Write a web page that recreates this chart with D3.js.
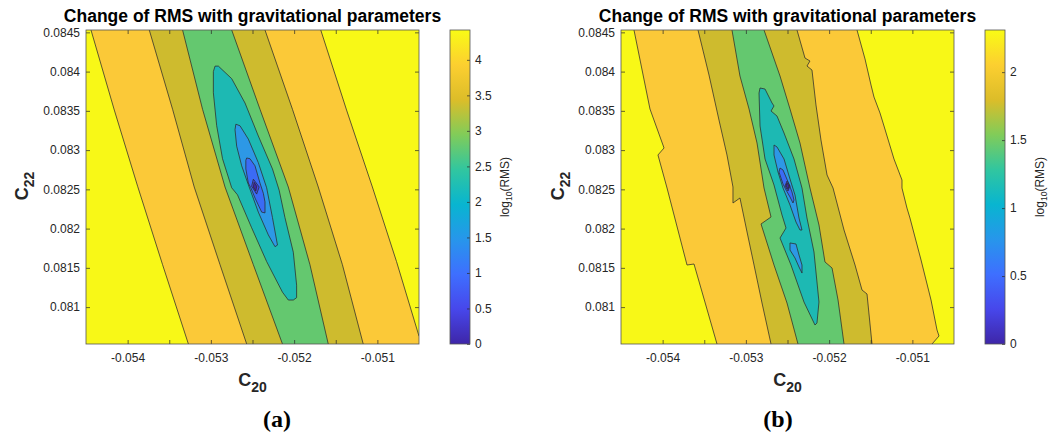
<!DOCTYPE html>
<html><head><meta charset="utf-8">
<script src="https://cdn.jsdelivr.net/npm/d3@7"></script>
<style>body{margin:0;background:#fff;} svg{display:block;}</style>
</head><body><svg id="chart" width="1052" height="439"></svg>
<script>
// ---------------- data ----------------
const c20Domain = [-0.0545, -0.0505];
const c22Domain = [0.08053, 0.08453];
const c20TickValues = [-0.054, -0.0535, -0.053, -0.0525, -0.052, -0.0515, -0.051];
const c20TickLabels = [-0.054, -0.053, -0.052, -0.051];
const c22TickValues = [0.081, 0.0815, 0.082, 0.0825, 0.083, 0.0835, 0.084, 0.0845];
const cbarMaxA = 4.42;
const cbarTicksA = [0, 0.5, 1, 1.5, 2, 2.5, 3, 3.5, 4];
const cbarMaxB = 2.31;
const cbarTicksB = [0, 0.5, 1, 1.5, 2];

// panel (a) contour lines, [C20, C22]
const a_lvl40_left  = [[-0.05444,0.08453],[-0.05416,0.08351],[-0.05388,0.08254],[-0.05358,0.08154],[-0.05327,0.08053]];
const a_lvl40_right = [[-0.05168,0.08453],[-0.05137,0.08351],[-0.05106,0.08253],[-0.05077,0.08158],[-0.05050,0.08063]];
const a_lvl35_left  = [[-0.05374,0.08453],[-0.05346,0.08352],[-0.05320,0.08253],[-0.05289,0.08154],[-0.05257,0.08053]];
const a_lvl35_right = [[-0.05235,0.08453],[-0.05202,0.08352],[-0.05171,0.08253],[-0.05142,0.08154],[-0.05117,0.08053]];
const a_lvl30_left  = [[-0.05334,0.08453],[-0.05310,0.08352],[-0.05283,0.08253],[-0.05249,0.08154],[-0.05214,0.08053]];
const a_lvl30_right = [[-0.05275,0.08453],[-0.05241,0.08352],[-0.05207,0.08253],[-0.05181,0.08154],[-0.05159,0.08053]];
const a_lvl25 = [[-0.05295,0.08407],[-0.05291,0.08407],[-0.05275,0.08391],[-0.05259,0.08360],[-0.05243,0.08318],[-0.05226,0.08276],[-0.05218,0.08249],[-0.05211,0.08214],[-0.05201,0.08170],[-0.05197,0.08128],[-0.05197,0.08112],[-0.05201,0.08109],[-0.05207,0.08109],[-0.05214,0.08119],[-0.05233,0.08158],[-0.05251,0.08201],[-0.05268,0.08243],[-0.05275,0.08252],[-0.05286,0.08289],[-0.05293,0.08331],[-0.05297,0.08373],[-0.05297,0.08400]];
const a_lvl20 = [[-0.05270,0.08333],[-0.05265,0.08331],[-0.05255,0.08314],[-0.05243,0.08284],[-0.05233,0.08252],[-0.05226,0.08214],[-0.05220,0.08179],[-0.05223,0.08177],[-0.05231,0.08192],[-0.05243,0.08221],[-0.05255,0.08256],[-0.05263,0.08280],[-0.05269,0.08305],[-0.05271,0.08326]];
const a_lvl15 = [[-0.05257,0.08290],[-0.05253,0.08289],[-0.05247,0.08280],[-0.05241,0.08258],[-0.05237,0.08245],[-0.05235,0.08234],[-0.05235,0.08220],[-0.05239,0.08221],[-0.05247,0.08239],[-0.05252,0.08252],[-0.05255,0.08258],[-0.05258,0.08276],[-0.05258,0.08287]];
const a_lvl10 = [[-0.05249,0.08263],[-0.05242,0.08253],[-0.05245,0.08244],[-0.05251,0.08254]];
const a_lvl05 = [[-0.05248,0.08259],[-0.05245,0.08254],[-0.05246,0.08248],[-0.05249,0.08253]];

// panel (b) contour lines, [C20, C22]
const b_lvl4_left  = [[-0.054344,0.08453],[-0.054152,0.083524],[-0.053983,0.083027],[-0.054056,0.082938],[-0.053947,0.082517],[-0.053707,0.081536],[-0.053623,0.081549],[-0.053347,0.08053]];
const b_lvl4_right = [[-0.051665,0.08453],[-0.051569,0.084161],[-0.051497,0.083829],[-0.051461,0.083676],[-0.051389,0.083473],[-0.051341,0.083307],[-0.051221,0.082887],[-0.051125,0.082619],[-0.051125,0.082517],[-0.051065,0.082262],[-0.051029,0.082135],[-0.050896,0.0816],[-0.050776,0.08109],[-0.050704,0.080708],[-0.05068,0.080632],[-0.050764,0.08053]];
const b_lvl3_left  = [[-0.053575,0.08453],[-0.053443,0.083957],[-0.053323,0.083383],[-0.053227,0.082938],[-0.053155,0.08253],[-0.053155,0.082326],[-0.053071,0.08239],[-0.052986,0.081957],[-0.052902,0.081536],[-0.052806,0.081052],[-0.052698,0.08053]];
const b_lvl3_right = [[-0.052386,0.08453],[-0.05229,0.084173],[-0.05223,0.084135],[-0.052266,0.084071],[-0.052206,0.08402],[-0.052158,0.083575],[-0.052098,0.083129],[-0.052025,0.082683],[-0.051953,0.082517],[-0.051821,0.081982],[-0.051689,0.081536],[-0.051605,0.081218],[-0.051545,0.081167],[-0.051485,0.08053]];
const b_lvl2_left  = [[-0.053167,0.08453],[-0.053071,0.083944],[-0.052962,0.083524],[-0.052866,0.08309],[-0.052782,0.082517],[-0.052698,0.082148],[-0.052818,0.082059],[-0.052662,0.081536],[-0.052506,0.081052],[-0.052374,0.08053]];
const b_lvl2_right = [[-0.052782,0.08453],[-0.05259,0.083944],[-0.05247,0.083524],[-0.05235,0.08309],[-0.05223,0.082517],[-0.052122,0.082046],[-0.05205,0.081575],[-0.051965,0.081498],[-0.051893,0.08109],[-0.051821,0.08053]];
const b_lvl15 = [[-0.05283,0.083791],[-0.05277,0.083778],[-0.052686,0.0836],[-0.052662,0.083562],[-0.052698,0.083498],[-0.052626,0.083434],[-0.052542,0.083218],[-0.052422,0.082887],[-0.052326,0.082517],[-0.052266,0.082135],[-0.052182,0.081702],[-0.052122,0.081065],[-0.052146,0.080797],[-0.05217,0.080772],[-0.052302,0.081065],[-0.052458,0.081536],[-0.05259,0.08188],[-0.052518,0.082008],[-0.052566,0.082173],[-0.052662,0.082555],[-0.05277,0.082887],[-0.05283,0.083307],[-0.052842,0.083727]];
const b_lvl1 = [[-0.052662,0.083065],[-0.052626,0.08304],[-0.052542,0.082887],[-0.05247,0.082632],[-0.05241,0.082428],[-0.052362,0.082135],[-0.052326,0.081982],[-0.05235,0.081982],[-0.052398,0.082084],[-0.05247,0.082301],[-0.052554,0.082517],[-0.052614,0.082721],[-0.052662,0.082938]];
const b_lvl1_island = [[-0.05247,0.081817],[-0.052398,0.081804],[-0.052362,0.081664],[-0.052326,0.081536],[-0.052326,0.081434],[-0.052362,0.081511],[-0.05241,0.081626],[-0.05247,0.081727]];
const b_lvl05 = [[-0.05259,0.082772],[-0.052554,0.082747],[-0.052518,0.082657],[-0.052482,0.082568],[-0.052446,0.082466],[-0.052422,0.082364],[-0.052434,0.082326],[-0.05247,0.082403],[-0.052518,0.082492],[-0.052554,0.082568],[-0.052578,0.082645],[-0.052602,0.082721]];
const b_lvl025 = [[-0.052506,0.082606],[-0.05247,0.082543],[-0.052494,0.082479],[-0.05253,0.082543]];
const b_lvl0 = [[-0.052506,0.082581],[-0.052482,0.082543],[-0.052494,0.082505],[-0.052518,0.082543]];

// ---------------- styles ----------------
const parulaStops = ['#3E26A8','#4747EB','#3E6FFF','#2796EB','#08B5D0','#31C69F','#81CC59','#DCBD29','#FCCF30','#F9FB15'];
const C = {yellow:'#F8F817', orange:'#FBC938', olive:'#CEBB2E', green:'#64C86F', teal:'#1DB9B3',
           lblue:'#2D98E6', blue:'#3B6BF5', dblue:'#4545E4', navy:'#3E26A8'};

const panels = [
  {id:'a', px0:86, px1:419, cbx:450, cmax:cbarMaxA, cticks:cbarTicksA, ylabX:28, cblabX:509, tagX:277, tag:'a',
   bands:[[a_lvl40_left,a_lvl40_right,C.orange],[a_lvl35_left,a_lvl35_right,C.olive],[a_lvl30_left,a_lvl30_right,C.green]],
   closed:[[a_lvl25,C.teal],[a_lvl20,C.lblue],[a_lvl15,C.blue],[a_lvl10,C.dblue],[a_lvl05,C.navy]]},
  {id:'b', px0:621, px1:954, cbx:985, cmax:cbarMaxB, cticks:cbarTicksB, ylabX:564, cblabX:1044, tagX:778, tag:'b',
   bands:[[b_lvl4_left,b_lvl4_right,C.orange],[b_lvl3_left,b_lvl3_right,C.olive],[b_lvl2_left,b_lvl2_right,C.green]],
   closed:[[b_lvl15,C.teal],[b_lvl1,C.lblue],[b_lvl1_island,C.lblue],[b_lvl05,C.blue],[b_lvl025,C.dblue],[b_lvl0,C.navy]]}
];

const PY0 = 30, PY1 = 344;
const svg = d3.select('#chart');
const defs = svg.append('defs');
const grad = defs.append('linearGradient').attr('id','parula')
  .attr('x1',0).attr('y1',1).attr('x2',0).attr('y2',0);
parulaStops.forEach((c,i)=>grad.append('stop').attr('offset',i/(parulaStops.length-1)).attr('stop-color',c));

const SANS = "'Liberation Sans', Arial, Helvetica, sans-serif";
const TXT = '#262626';

function styleAxis(g){
  g.select('.domain').remove();
  g.selectAll('.tick line').attr('stroke',TXT).attr('stroke-width',0.7);
  g.selectAll('.tick text').attr('fill',TXT).attr('font-size',12).attr('font-family',SANS);
  g.attr('font-family',SANS);
}

function drawPanel(p){
  const x = d3.scaleLinear(c20Domain,[p.px0,p.px1]);
  const y = d3.scaleLinear(c22Domain,[PY1,PY0]);
  const line = d3.line().x(d=>x(d[0])).y(d=>y(d[1]));
  const clipId = 'clip'+p.id;
  defs.append('clipPath').attr('id',clipId).append('rect')
    .attr('x',p.px0).attr('y',PY0).attr('width',p.px1-p.px0).attr('height',PY1-PY0);
  const g = svg.append('g').attr('clip-path',`url(#${clipId})`);
  g.append('rect').attr('x',p.px0).attr('y',PY0).attr('width',p.px1-p.px0).attr('height',PY1-PY0).attr('fill',C.yellow);
  const pad = 0.001;
  const ext = pts => [[pts[0][0], c22Domain[1]+pad], ...pts, [pts[pts.length-1][0], c22Domain[0]-pad]];
  p.bands.forEach(([L,R,col])=>{
    const poly = ext(L).concat(ext(R).reverse());
    g.append('path').attr('d',line(poly)+'Z').attr('fill',col);
  });
  p.closed.forEach(([pts,col])=>g.append('path').attr('d',line(pts)+'Z').attr('fill',col));
  const stroke = s => s.attr('fill','none').attr('stroke','#2b2b2b').attr('stroke-width',0.75).attr('stroke-linejoin','round');
  p.bands.forEach(([L,R])=>[L,R].forEach(pts=>g.append('path').attr('d',line(pts)).call(stroke)));
  p.closed.forEach(([pts])=>g.append('path').attr('d',line(pts)+'Z').call(stroke));

  // axes
  const fmt = d => c20TickLabels.includes(d) ? String(d) : '';
  svg.append('g').attr('transform',`translate(0,${PY1})`)
    .call(d3.axisBottom(x).tickValues(c20TickValues).tickSize(-4).tickPadding(9).tickFormat(fmt)).call(styleAxis);
  svg.append('g').attr('transform',`translate(0,${PY0})`)
    .call(d3.axisTop(x).tickValues(c20TickValues).tickSize(-4).tickFormat('')).call(styleAxis);
  svg.append('g').attr('transform',`translate(${p.px0},0)`)
    .call(d3.axisLeft(y).tickValues(c22TickValues).tickSize(-4).tickPadding(6).tickFormat(d=>String(d))).call(styleAxis);
  svg.append('g').attr('transform',`translate(${p.px1},0)`)
    .call(d3.axisRight(y).tickValues(c22TickValues).tickSize(-4).tickFormat('')).call(styleAxis);
  svg.append('rect').attr('x',p.px0).attr('y',PY0).attr('width',p.px1-p.px0).attr('height',PY1-PY0)
    .attr('fill','none').attr('stroke','#555').attr('stroke-width',0.8);

  // title
  const cx = (p.px0+p.px1)/2;
  svg.append('text').attr('x',cx).attr('y',22).attr('text-anchor','middle')
    .attr('font-family',SANS).attr('font-weight','bold').attr('font-size',17.5).attr('fill','#000')
    .text('Change of RMS with gravitational parameters');
  // x label
  const xl = svg.append('text').attr('x',cx).attr('y',386).attr('text-anchor','middle')
    .attr('font-family',SANS).attr('font-weight','bold').attr('font-size',18).attr('fill',TXT);
  xl.append('tspan').text('C');
  xl.append('tspan').attr('font-size',14).attr('dy',6).text('20');
  // y label
  const yl = svg.append('text').attr('transform',`translate(${p.ylabX},186) rotate(-90)`).attr('text-anchor','middle')
    .attr('font-family',SANS).attr('font-weight','bold').attr('font-size',18).attr('fill',TXT);
  yl.append('tspan').text('C');
  yl.append('tspan').attr('font-size',14).attr('dy',6).text('22');

  // colorbar
  const cs = d3.scaleLinear([0,p.cmax],[PY1,PY0]);
  svg.append('rect').attr('x',p.cbx).attr('y',PY0).attr('width',20).attr('height',PY1-PY0).attr('fill','url(#parula)');
  svg.append('g').attr('transform',`translate(${p.cbx+20},0)`)
    .call(d3.axisRight(cs).tickValues(p.cticks).tickSize(-3).tickPadding(5).tickFormat(d=>String(d))).call(styleAxis);
  svg.append('rect').attr('x',p.cbx).attr('y',PY0).attr('width',20).attr('height',PY1-PY0)
    .attr('fill','none').attr('stroke','#555').attr('stroke-width',0.8);
  const cl = svg.append('text').attr('transform',`translate(${p.cblabX},187) rotate(-90)`).attr('text-anchor','middle')
    .attr('font-family',SANS).attr('font-size',12).attr('fill',TXT);
  cl.append('tspan').text('log');
  cl.append('tspan').attr('font-size',8.5).attr('dy',3).text('10');
  cl.append('tspan').attr('dy',-3).text('(RMS)');

  // subfigure tag
  const t = svg.append('text').attr('x',p.tagX).attr('y',427).attr('text-anchor','middle')
    .attr('font-family',"'Liberation Serif','Times New Roman',serif").attr('font-weight','bold').attr('font-size',24).attr('fill','#000');
  t.append('tspan').text('(');
  t.append('tspan').text(p.tag);
  t.append('tspan').text(')');
}
panels.forEach(drawPanel);
</script></body></html>
